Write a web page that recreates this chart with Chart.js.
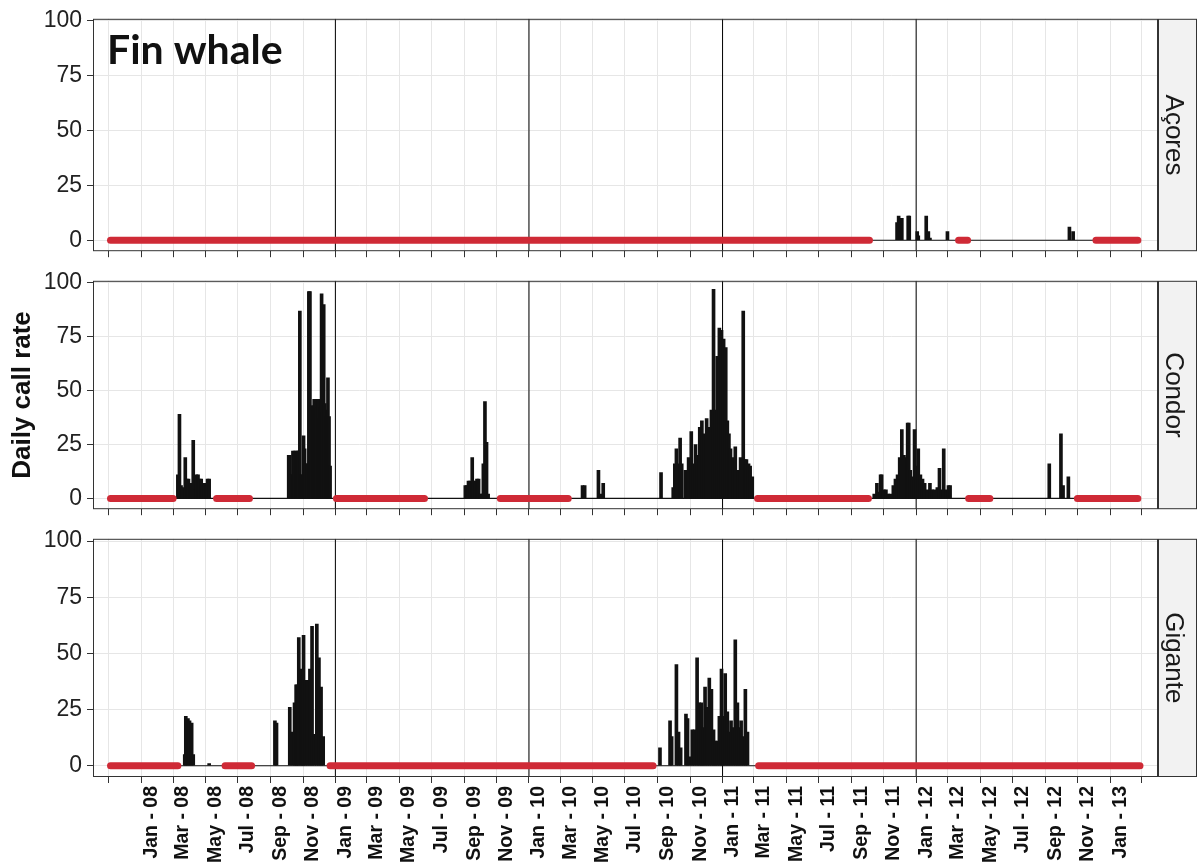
<!DOCTYPE html>
<html>
<head>
<meta charset="utf-8">
<script src="https://cdn.jsdelivr.net/npm/chart.js@4.4.1/dist/chart.umd.min.js"></script>
<style>
  html, body { margin: 0; padding: 0; background: #fff; }
  body { width: 1198px; height: 864px; position: relative; overflow: hidden; }
  .panel { position: absolute; left: 0; width: 1198px; }
</style>
</head>
<body>
<div class="panel" style="top:0;height:270px"><canvas id="acores"></canvas></div>
<div class="panel" style="top:262px;height:266px"><canvas id="condor"></canvas></div>
<div class="panel" style="top:520px;height:344px"><canvas id="gigante"></canvas></div>
<script>
// ---- data ----
var sites = ['Açores', 'Condor', 'Gigante'];
var xStart = '2007-10-02', xEnd = '2013-04-01';
var xTickDates = ['2007-11-01','2008-01-01','2008-03-01','2008-05-01','2008-07-01','2008-09-01','2008-11-01',
  '2009-01-01','2009-03-01','2009-05-01','2009-07-01','2009-09-01','2009-11-01',
  '2010-01-01','2010-03-01','2010-05-01','2010-07-01','2010-09-01','2010-11-01',
  '2011-01-01','2011-03-01','2011-05-01','2011-07-01','2011-09-01','2011-11-01',
  '2012-01-01','2012-03-01','2012-05-01','2012-07-01','2012-09-01','2012-11-01',
  '2013-01-01','2013-03-01'];
var xTickLabels = ['', 'Jan - 08','Mar - 08','May - 08','Jul - 08','Sep - 08','Nov - 08',
  'Jan - 09','Mar - 09','May - 09','Jul - 09','Sep - 09','Nov - 09',
  'Jan - 10','Mar - 10','May - 10','Jul - 10','Sep - 10','Nov - 10',
  'Jan - 11','Mar - 11','May - 11','Jul - 11','Sep - 11','Nov - 11',
  'Jan - 12','Mar - 12','May - 12','Jul - 12','Sep - 12','Nov - 12',
  'Jan - 13', ''];
var yTicks = [0, 25, 50, 75, 100];
var yearStarts = ['2009-01-01', '2010-01-01', '2011-01-01', '2012-01-01'];

// Açores
var acoresDates = ['2011-11-26','2011-11-29','2011-12-03','2011-12-05','2011-12-17','2011-12-19','2012-01-03',
  '2012-01-05','2012-01-20','2012-01-24','2012-01-27','2012-02-29','2012-10-16','2012-10-23'];
var acoresRates = [8, 11, 10, 10, 11, 11, 4, 2, 11, 4, 1, 4, 6, 4];
var acoresNoData = [['2007-11-04','2011-10-05'], ['2012-03-21','2012-04-07'], ['2012-12-05','2013-02-22']];
var acoresEffort = [['2011-10-05','2012-03-21'], ['2012-04-07','2012-12-05']];

// Condor
var condorDates = [
  '2008-03-10','2008-03-13','2008-03-16','2008-03-19','2008-03-24','2008-03-27','2008-03-30','2008-04-02','2008-04-05','2008-04-08',
  '2008-04-11','2008-04-14','2008-04-17','2008-04-20','2008-04-23','2008-04-26','2008-04-29','2008-05-02','2008-05-05','2008-05-08',
  '2008-10-05','2008-10-07','2008-10-09','2008-10-11','2008-10-13','2008-10-16','2008-10-19','2008-10-22','2008-10-24','2008-10-26',
  '2008-10-28','2008-10-31','2008-11-02','2008-11-04','2008-11-06','2008-11-09','2008-11-12','2008-11-14','2008-11-17','2008-11-20',
  '2008-11-22','2008-11-25','2008-11-27','2008-11-30','2008-12-02','2008-12-04','2008-12-06','2008-12-08','2008-12-10','2008-12-12',
  '2008-12-14','2008-12-16','2008-12-18','2008-12-20','2008-12-22',
  '2009-09-03','2009-09-06','2009-09-09','2009-09-12','2009-09-16','2009-09-18','2009-09-21','2009-09-25','2009-09-28','2009-10-02',
  '2009-10-05','2009-10-07','2009-10-10','2009-10-13','2009-10-16',
  '2010-04-12','2010-04-16','2010-05-12','2010-05-17','2010-05-21','2010-09-07',
  '2010-09-30','2010-10-03','2010-10-06','2010-10-09','2010-10-13','2010-10-16','2010-10-23','2010-10-26','2010-10-29','2010-11-03',
  '2010-11-07','2010-11-11','2010-11-15','2010-11-19','2010-11-23','2010-11-28','2010-12-02','2010-12-07','2010-12-11','2010-12-15',
  '2010-12-18','2010-12-22','2010-12-26','2010-12-30','2011-01-03','2011-01-07','2011-01-10','2011-01-13','2011-01-16','2011-01-21',
  '2011-01-25','2011-01-30','2011-02-04','2011-02-09','2011-02-12','2011-02-15','2011-02-19','2011-02-22','2011-02-26',
  '2011-10-14','2011-10-19','2011-10-22','2011-10-26','2011-10-28','2011-11-01','2011-11-05','2011-11-09','2011-11-13','2011-11-19',
  '2011-11-23','2011-11-27','2011-12-01','2011-12-05','2011-12-09','2011-12-12','2011-12-16','2011-12-18','2011-12-21','2011-12-25',
  '2011-12-29','2012-01-02','2012-01-05','2012-01-09','2012-01-13','2012-01-17','2012-01-22','2012-01-27','2012-01-31','2012-02-04',
  '2012-02-10','2012-02-14','2012-02-18','2012-02-22','2012-02-27','2012-03-02','2012-03-05',
  '2012-09-08','2012-09-30','2012-10-04','2012-10-14'];
var condorRates = [
  11, 39, 6, 5, 19, 9, 9, 7, 7, 27,
  4, 11, 11, 9, 9, 7, 7, 6, 9, 9,
  20, 20, 11, 11, 22, 22, 22, 22, 22, 87,
  11, 11, 29, 23, 16, 16, 96, 96, 43, 43,
  46, 46, 42, 46, 37, 42, 95, 40, 90, 44,
  38, 41, 56, 38, 15,
  6, 6, 8, 8, 19, 8, 8, 9, 9, 2,
  2, 16, 45, 26, 2,
  6, 6, 13, 2, 7, 12,
  5, 16, 23, 16, 28, 16, 13, 13, 19, 31,
  16, 25, 20, 33, 36, 30, 37, 33, 41, 97,
  41, 66, 79, 78, 74, 70, 36, 30, 23, 19,
  24, 13, 19, 87, 18, 18, 16, 15, 10,
  2, 7, 3, 11, 11, 4, 4, 2, 2, 6,
  9, 11, 19, 32, 20, 19, 35, 35, 13, 10,
  32, 15, 23, 11, 9, 7, 4, 7, 4, 4,
  5, 14, 4, 23, 4, 6, 6,
  16, 30, 6, 10];
var condorNoData = [['2007-11-04','2008-03-01'], ['2008-05-22','2008-07-23'], ['2009-01-03','2009-06-18'],
  ['2009-11-08','2010-03-16'], ['2011-03-08','2011-10-03'], ['2012-04-09','2012-05-19'], ['2012-10-31','2013-02-22']];
var condorEffort = [['2008-03-01','2008-05-22'], ['2008-07-23','2009-01-03'], ['2009-06-18','2009-11-08'],
  ['2010-03-16','2011-03-08'], ['2011-10-03','2012-04-09'], ['2012-05-19','2012-10-31']];

// Gigante
var giganteDates = [
  '2008-03-23','2008-03-25','2008-03-29','2008-04-01','2008-04-05','2008-04-08','2008-05-08','2008-09-09','2008-09-12',
  '2008-10-07','2008-10-12','2008-10-16','2008-10-19','2008-10-21','2008-10-24','2008-10-28','2008-10-31','2008-11-02','2008-11-06',
  '2008-11-10','2008-11-14','2008-11-18','2008-11-22','2008-11-27','2008-12-01','2008-12-05','2008-12-09',
  '2010-09-05','2010-09-24','2010-09-27','2010-10-06','2010-10-10','2010-10-14','2010-10-24','2010-10-27','2010-10-31','2010-11-05',
  '2010-11-09','2010-11-14','2010-11-18','2010-11-22','2010-11-25','2010-11-29','2010-12-03','2010-12-07','2010-12-11','2010-12-15',
  '2010-12-18','2010-12-22','2010-12-26','2010-12-30','2011-01-02','2011-01-06','2011-01-10','2011-01-13','2011-01-17','2011-01-21',
  '2011-01-25','2011-01-29','2011-02-01','2011-02-05','2011-02-09','2011-02-13','2011-02-17'];
var giganteRates = [
  5, 22, 21, 20, 19, 5, 1, 20, 19,
  26, 15, 28, 36, 36, 57, 43, 40, 58, 38,
  38, 43, 62, 14, 63, 48, 35, 13,
  8, 20, 13, 45, 15, 8, 23, 21, 4, 16,
  16, 48, 28, 28, 17, 35, 26, 39, 34, 16,
  11, 11, 22, 43, 22, 41, 24, 15, 20, 17,
  56, 28, 17, 20, 13, 34, 15];
var giganteNoData = [['2007-11-04','2008-03-10'], ['2008-06-07','2008-07-27'], ['2008-12-22','2010-08-23'], ['2011-03-10','2013-02-26']];
var giganteEffort = [['2008-03-10','2008-06-07'], ['2008-07-27','2008-12-22'], ['2010-08-23','2011-03-10']];

// ---- drawing ----
var Y_MIN = -5, Y_MAX = 101;
var RED = '#cf2a36';
var GRID = '#e6e6e6';
var FONT = '"Liberation Sans", Arial, sans-serif';
var DAY0 = Date.UTC(2007, 10, 1);

function day(s) {
    var p = s.split('-').map(Number);
    return (Date.UTC(p[0], p[1] - 1, p[2]) - DAY0) / 864e5;
}

var panelFrame = {
    id: 'panelFrame',
    afterDraw: function (chart, args, o) {
        var ctx = chart.ctx, a = chart.chartArea;
        ctx.save();
        ctx.fillStyle = '#f2f2f2';
        ctx.fillRect(a.right, a.top, 39, a.bottom - a.top);
        ctx.strokeStyle = '#333';
        ctx.lineWidth = 1;
        ctx.strokeRect(a.right + 0.5, a.top + 0.5, 38, a.bottom - a.top - 1);
        ctx.strokeRect(a.left + 0.5, a.top + 0.5, a.right - a.left - 1, a.bottom - a.top - 1);
        if (o.title) {
            ctx.fillStyle = '#111';
            ctx.font = 'bold 41px Lato, "Open Sans", sans-serif';
            ctx.textAlign = 'left';
            ctx.textBaseline = 'alphabetic';
            ctx.fillText(o.title, a.left + 14, a.top + 45);
        }
        ctx.translate(a.right + 15, (a.top + a.bottom) / 2);
        ctx.rotate(Math.PI / 2);
        ctx.font = '26px ' + FONT;
        ctx.fillStyle = '#1a1a1a';
        ctx.textAlign = 'center';
        ctx.textBaseline = 'middle';
        ctx.fillText(o.label, 0, 0);
        ctx.restore();
    }
};

function printPanel(id, label, dates, rates, noData, effort, opts) {
    var datasets = [];
    noData.forEach(function (g) {
        datasets.push({
            type: 'line', data: [{x: day(g[0]), y: 0}, {x: day(g[1]), y: 0}],
            borderColor: RED, borderWidth: 7, borderCapStyle: 'round', pointRadius: 0, order: 0
        });
    });
    datasets.push({
        type: 'bar',
        data: dates.map(function (d, i) { return {x: day(d), y: rates[i]}; }),
        backgroundColor: '#111', borderWidth: 0, barThickness: 3, order: 1
    });
    effort.forEach(function (g) {
        datasets.push({
            type: 'line', data: [{x: day(g[0]), y: 0}, {x: day(g[1]), y: 0}],
            borderColor: '#111', borderWidth: 1.2, pointRadius: 0, order: 2
        });
    });
    yearStarts.forEach(function (d) {
        datasets.push({
            type: 'line', data: [{x: day(d), y: Y_MIN}, {x: day(d), y: Y_MAX}],
            borderColor: '#000', borderWidth: 1, pointRadius: 0, order: 3
        });
    });

    return new Chart(document.getElementById(id), {
        type: 'bar',
        data: {datasets: datasets},
        options: {
            responsive: true,
            maintainAspectRatio: false,
            animation: false,
            events: [],
            layout: {padding: {top: opts.padTop, right: 40, left: 0, bottom: 0}},
            plugins: {
                legend: {display: false},
                tooltip: {enabled: false},
                panelFrame: {label: label, title: opts.title}
            },
            scales: {
                x: {
                    type: 'linear',
                    min: day(xStart),
                    max: day(xEnd),
                    offset: false,
                    afterBuildTicks: function (s) {
                        s.ticks = xTickDates.map(function (d) { return {value: day(d)}; });
                    },
                    afterFit: function (s) { s.height = opts.showLabels ? 87 : 8; },
                    grid: {color: GRID, offset: false, tickColor: '#333', tickLength: 6, drawTicks: true},
                    border: {display: false},
                    ticks: {
                        display: opts.showLabels,
                        autoSkip: false,
                        minRotation: 90,
                        maxRotation: 90,
                        padding: 3,
                        labelOffset: 10,
                        color: '#111',
                        font: {family: FONT, size: 19.5, weight: 'bold'},
                        callback: function (v, i) { return xTickLabels[i]; }
                    }
                },
                y: {
                    min: Y_MIN,
                    max: Y_MAX,
                    afterBuildTicks: function (s) {
                        s.ticks = yTicks.map(function (v) { return {value: v}; });
                    },
                    afterFit: function (s) { s.width = 93; },
                    grid: {color: GRID, tickColor: '#333', tickLength: 6},
                    border: {display: false},
                    ticks: {color: '#222', padding: 5, font: {family: FONT, size: 23}},
                    title: {
                        display: !!opts.yTitle,
                        text: opts.yTitle || '',
                        color: '#111',
                        padding: {top: 7, bottom: 0},
                        font: {family: FONT, size: 26, weight: 'bold'}
                    }
                }
            }
        },
        plugins: [panelFrame]
    });
}

printPanel('acores', sites[0], acoresDates, acoresRates, acoresNoData, acoresEffort,
    {padTop: 15, showLabels: false, title: 'Fin whale'});
printPanel('condor', sites[1], condorDates, condorRates, condorNoData, condorEffort,
    {padTop: 10, showLabels: false, yTitle: 'Daily call rate'});
printPanel('gigante', sites[2], giganteDates, giganteRates, giganteNoData, giganteEffort,
    {padTop: 9, showLabels: true});
</script>
</body>
</html>
